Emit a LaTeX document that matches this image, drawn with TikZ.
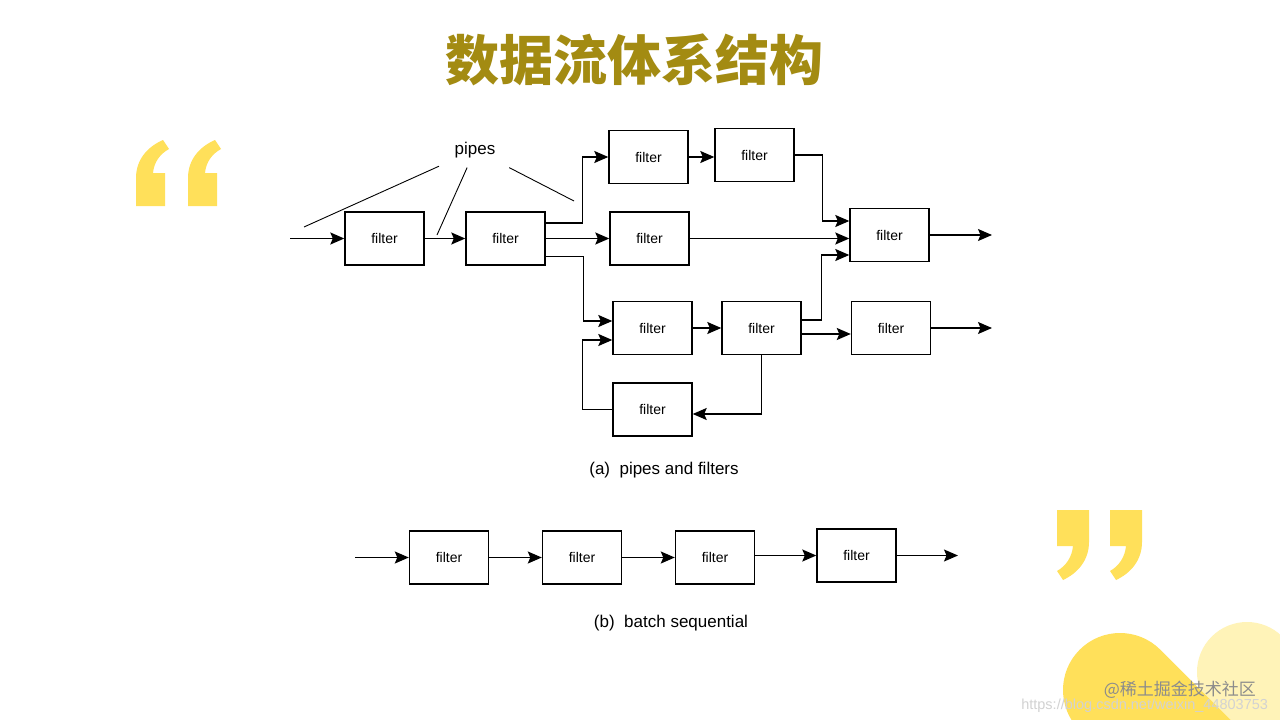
\documentclass[tikz,border=0pt]{standalone}
\usepackage{fontspec}
\setmainfont{Liberation Sans}
\newfontfamily\cjk{Noto Sans CJK SC}
\usetikzlibrary{arrows.meta}
\definecolor{titlegold}{RGB}{163,139,18}
\definecolor{quoteyellow}{RGB}{255,224,90}
\definecolor{paleyellow}{RGB}{255,243,184}

\begin{document}
\begin{tikzpicture}[x=1pt,y=-1pt,line width=1.4pt,
  >={Stealth[length=14pt,width=12pt,inset=2.5pt]},node distance=133pt,
  filter node/.style={rectangle,draw,minimum width=79pt,
  minimum height=53pt,font=\fontsize{14}{16}\selectfont},
  pipe/.style={->},
  pointer/.style={-,line width=0.9pt},
  caption/.style={font=\fontsize{17}{20}\selectfont}]

  \useasboundingbox[fill=white] (0,0) rectangle (1280,720);

  % decoration: quote marks and the round shapes in the corner
  \foreach \dx in {0,52}
    \fill[quoteyellow,xshift=\dx pt] (136,206) -- (136,178)
      .. controls (136,160) and (147,147) .. (163,140) -- (169,149)
      .. controls (160,154) and (154,162) .. (153,173) -- (165,173)
      -- (165,206) -- cycle;
  \foreach \dx in {0,53}
    \fill[quoteyellow,xshift=\dx pt] (1057,510) -- (1089,510) -- (1089,542)
      .. controls (1089,560) and (1078,573) .. (1063,580) -- (1057,571)
      .. controls (1066,566) and (1072,557) .. (1073,546) -- (1057,546)
      -- cycle;
  \begin{scope}
    \clip (0,0) rectangle (1280,720);
    \draw[paleyellow,line width=100pt,line cap=round] (1247,672) -- (1347,772);
    \draw[quoteyellow,line width=114pt,line cap=round] (1120,690) -- (1220,790);
  \end{scope}

  \node[text=titlegold,font=\cjk\bfseries\fontsize{54}{62}\selectfont]
    (title) at (634,60) {数据流体系结构};

  % (a) pipes and filters
  \node[filter node] (F1) at (384.5,238.5) {filter};
  \node[filter node] (F2) at (505.5,238.5) {filter};
  \node[filter node] (F3) at (648.5,157) {filter};
  \node[filter node] (F4) at (754.5,155) {filter};
  \node[filter node] (F5) at (649.5,238.5) {filter};
  \node[filter node] (F6) at (889.5,235) {filter};
  \node[filter node] (F7) at (652.5,328) {filter};
  \node[filter node] (F8) at (761.5,328) {filter};
  \node[filter node] (F9) at (891,328) {filter};
  \node[filter node] (F10) at (652.5,409.5) {filter};
  \coordinate (in) at (290,238.5);
  \coordinate (out1) at (992,235);
  \coordinate (out2) at (992,328);

  \path[pipe]
    (in) edge (F1)
    (F1) edge (F2)
    (F2) edge (F5)
    (F7) edge (F8)
    (F6) edge (out1)
    (F9) edge (out2);
  \draw[pipe] ([yshift=15.5pt]F2.east) -- ++(37,0) |- (F3);
  \draw[pipe] ([yshift=-18pt]F2.east) -- ++(38,0) |- ([yshift=7pt]F7.west);
  \draw[pipe] (F3.east) -- (F3.east -| F4.west);
  \draw[pipe] (F4.east) -- ++(28,0) |- ([yshift=14pt]F6.west);
  \draw[pipe] (F5.east) -- (F5.east -| F6.west);
  \draw[pipe] ([yshift=8pt]F8.east) -- ++(20,0) |- ([yshift=-20pt]F6.west);
  \draw[pipe] ([yshift=-6pt]F8.east) -- ([yshift=-6pt]F8.east -| F9.west);
  \draw[pipe] (F8.south) |- ([yshift=-4.5pt]F10.east);
  \draw[pipe] (F10.west) -- ++(-30,0) |- ([yshift=-12pt]F7.west);

  \node[caption,inner xsep=15pt,inner ysep=9pt] (pipes) at (475,150) {pipes};
  \coordinate (p1) at (304,227);
  \coordinate (p2) at (437,235);
  \coordinate (p3) at (574,201);
  \draw[pointer] (pipes) -- (p1);
  \draw[pointer] (pipes) -- (p2);
  \draw[pointer] (pipes) -- (p3);

  \node[caption] (capa) at (664,470) {(a)\ \ pipes and filters};

  % (b) batch sequential
  \node[filter node] (B1) at (449,557.5) {filter};
  \node[filter node] (B2) [right of=B1] {filter};
  \node[filter node] (B3) [right of=B2] {filter};
  \node[filter node] (B4) at (856.5,555.5) {filter};
  \coordinate (bin) at (355,557.5);
  \coordinate (bout) at (958,555.5);

  \path[pipe]
    (bin) edge (B1)
    (B1) edge (B2)
    (B2) edge (B3)
    (B3.east |- B4) edge (B4)
    (B4) edge (bout);

  \node[caption] (capb) at (671,623) {(b)\ \ batch sequential};

  % watermarks
  \node[text=gray!90,font=\cjk\fontsize{17}{20}\selectfont,anchor=east]
    (mark) at (1260,690) {@稀土掘金技术社区};
  \node[text=gray!35,font=\fontsize{14.5}{16}\selectfont,anchor=east]
    (url) at (1272,706) {https://blog.csdn.net/weixin\_44803753};
\end{tikzpicture}
\end{document}
